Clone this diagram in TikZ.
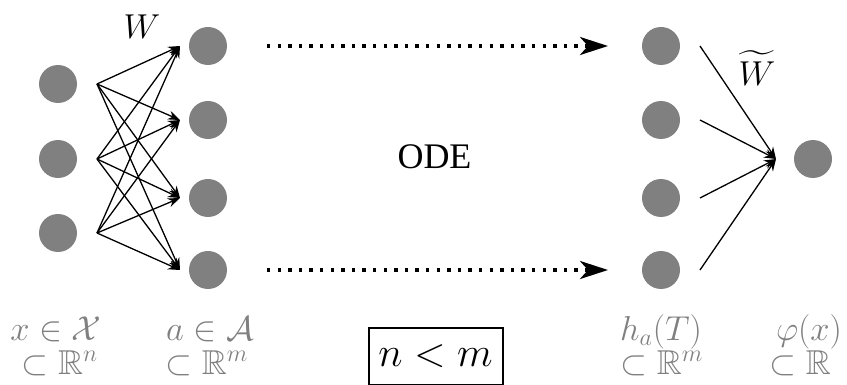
\documentclass[tikz,border=0pt]{standalone}
\usepackage{amssymb}
\usepackage{fontspec}
\newfontfamily\timesf{Liberation Serif}
\usetikzlibrary{arrows.meta}
\begin{document}
\begin{tikzpicture}[x=0.5pt,y=-0.5pt,
  neuron/.style={circle,fill=black!50,draw=none,minimum size=19pt,inner sep=0pt},
  wedge/.style={line width=0.65pt,-{Stealth[length=6pt,width=4.5pt,inset=2pt]}},
  odearrow/.style={line width=1.7pt,dash pattern=on 1.7pt off 3.6pt,-{Stealth[length=14pt,width=9pt,inset=4pt]}},
  mfont/.style={font=\fontsize{17.28}{21}\selectfont},
  lbl/.style={mfont,text=black!50,anchor=base,inner sep=0pt}]
\useasboundingbox (0,0) rectangle (847,385);
% layers
\foreach \i/\y in {1/84,2/159,3/233} {
  \node[neuron] (x\i) at (58,\y) {};
  \coordinate (xo\i) at (97,\y);
}
\foreach \i/\y in {1/46,2/120,3/198,4/270} {
  \node[neuron] (a\i) at (208,\y) {};
  \coordinate (ai\i) at (180,\y);
  \coordinate (ao\i) at (267,\y);
  \node[neuron] (h\i) at (661,\y) {};
  \coordinate (hi\i) at (608,\y);
  \coordinate (ho\i) at (700,\y);
}
\node[neuron] (o) at (813,159) {};
\coordinate (oi) at (776,159);
% W connections
\foreach \i in {1,2,3} \foreach \j in {1,2,3,4} \draw[wedge] (xo\i) -- (ai\j);
% output connections
\foreach \j in {1,2,3,4} \draw[wedge] (ho\j) -- (oi);
% ODE arrows
\draw[odearrow] (ao1) -- (hi1);
\draw[odearrow] (ao4) -- (hi4);
% labels
\node[mfont] (W) at (142,27) {$W$};
\node[mfont] (Wt) at (757,68) {$\widetilde{W}$};
\node[font=\timesf\fontsize{18}{22}\selectfont] (ode) at (434.5,157) {ODE};
\node[lbl] (lx1) at (56,340) {$x\in\mathcal{X}$};
\node[lbl] (lx2) at (60,374) {$\subset\mathbb{R}^n$};
\node[lbl] (la1) at (210,340) {$a\in\mathcal{A}$};
\node[lbl] (la2) at (207,374) {$\subset\mathbb{R}^m$};
\node[lbl] (lh1) at (661,340) {$h_a(T)$};
\node[lbl] (lh2) at (662,374) {$\subset\mathbb{R}^m$};
\node[lbl] (lp1) at (809,340) {$\varphi(x)$};
\node[lbl] (lp2) at (800,374) {$\subset\mathbb{R}$};
\node[font=\fontsize{20.74}{24}\selectfont,draw,line width=1pt,minimum width=67pt,minimum height=28.5pt,inner sep=0pt] (box) at (435.5,356.5) {$n<m$};
\end{tikzpicture}
\end{document}
